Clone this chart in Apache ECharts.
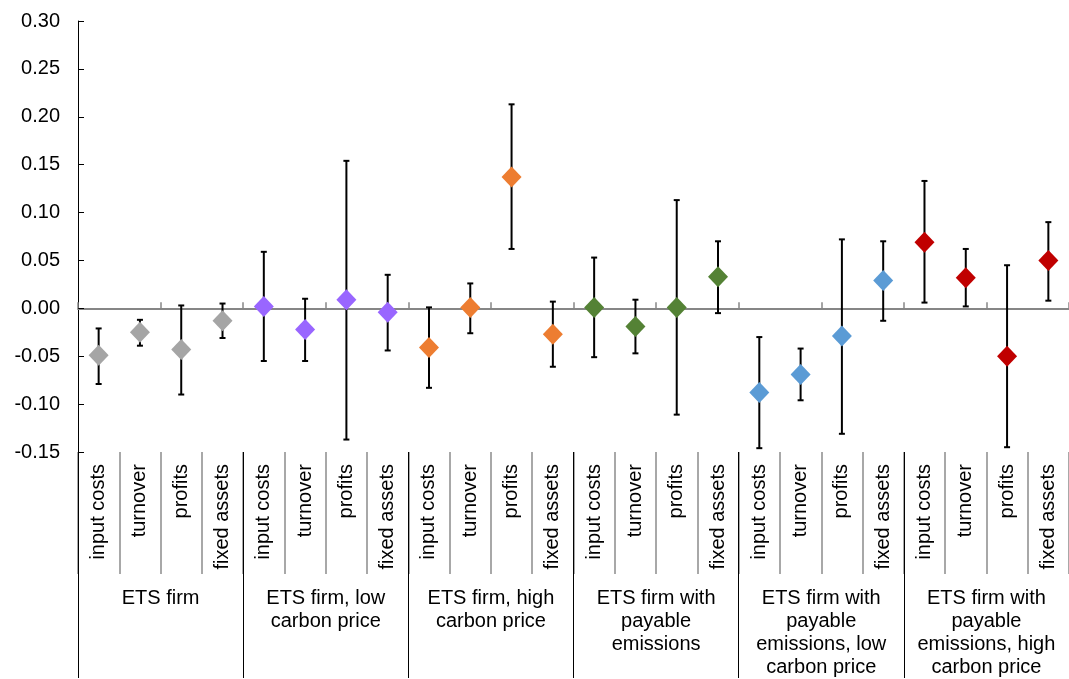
<!DOCTYPE html>
<html>
<head>
<meta charset="utf-8">
<title>ETS firm effects</title>
<script src="https://cdn.jsdelivr.net/npm/echarts@6/dist/echarts.min.js"></script>
<style>
  html, body { margin: 0; padding: 0; background: #fff; }
  #chart { width: 1069px; height: 679px; }
</style>
</head>
<body>
<div id="chart"></div>
<script>
// Outcome variables, repeated under each firm group
const items = [
  'input costs', 'turnover', 'profits', 'fixed assets',
  'input costs', 'turnover', 'profits', 'fixed assets',
  'input costs', 'turnover', 'profits', 'fixed assets',
  'input costs', 'turnover', 'profits', 'fixed assets',
  'input costs', 'turnover', 'profits', 'fixed assets',
  'input costs', 'turnover', 'profits', 'fixed assets'
];

// Firm groups (four outcomes each)
const groups = [
  'ETS firm',
  'ETS firm, low\ncarbon price',
  'ETS firm, high\ncarbon price',
  'ETS firm with\npayable\nemissions',
  'ETS firm with\npayable\nemissions, low\ncarbon price',
  'ETS firm with\npayable\nemissions, high\ncarbon price'
];

// Point estimates
const estimates = [
  -0.049, -0.025, -0.043, -0.013,
   0.002, -0.022,  0.009, -0.004,
  -0.041,  0.001,  0.137, -0.027,
   0.001, -0.019,  0.001,  0.033,
  -0.088, -0.069, -0.029,  0.029,
   0.069,  0.032, -0.050,  0.050
];

// Lower bounds of the confidence intervals
const lower = [
  -0.079, -0.039, -0.090, -0.031,
  -0.055, -0.055, -0.137, -0.044,
  -0.083, -0.026,  0.062, -0.061,
  -0.051, -0.047, -0.111, -0.005,
  -0.146, -0.096, -0.131, -0.013,
   0.006,  0.002, -0.145,  0.008
];

// Upper bounds of the confidence intervals
const upper = [
  -0.021, -0.012,  0.003,  0.005,
   0.059,  0.010,  0.154,  0.035,
   0.001,  0.026,  0.213,  0.007,
   0.053,  0.009,  0.113,  0.070,
  -0.030, -0.042,  0.072,  0.070,
   0.133,  0.062,  0.045,  0.090
];

// Y axis range
const yMin = -0.15;
const yMax = 0.30;
const yStep = 0.05;

// Marker colour per firm group
const groupColors = ['#A5A5A5', '#9966FF', '#ED7D31', '#548235', '#5B9BD5', '#C00000'];

const FONT = '"Liberation Sans", Arial, sans-serif';

const chart = echarts.init(document.getElementById('chart'), null, { renderer: 'canvas' });

const errorData = items.map((_, i) => [i, lower[i], upper[i]]);

chart.setOption({
  animation: false,
  backgroundColor: '#ffffff',
  textStyle: { fontFamily: FONT },
  grid: { left: 78, top: 21, width: 994, height: 434, containLabel: false },
  xAxis: [
    {
      // zero line with boundary ticks
      type: 'category',
      data: items,
      position: 'bottom',
      boundaryGap: true,
      axisLine: { show: true, onZero: true, lineStyle: { color: '#868686', width: 2 } },
      axisTick: { show: true, inside: true, length: 6, lineStyle: { color: '#868686', width: 1.5 } },
      axisLabel: { show: false },
      splitLine: { show: false }
    },
    {
      // outcome labels with separators
      type: 'category',
      data: items,
      position: 'bottom',
      boundaryGap: true,
      axisLine: { show: false, onZero: false },
      axisTick: { show: true, length: 122, lineStyle: { color: '#8C8C8C', width: 1.5 } },
      axisLabel: {
        show: true, interval: 0, rotate: 90, margin: 12,
        fontSize: 20, color: '#000', fontFamily: FONT
      },
      splitLine: { show: false }
    },
    {
      // firm group labels
      type: 'category',
      data: groups,
      position: 'bottom',
      boundaryGap: true,
      axisLine: { show: false, onZero: false },
      axisTick: { show: true, length: 226, lineStyle: { color: '#000', width: 1 } },
      axisLabel: {
        show: true, interval: 0, margin: 135,
        fontSize: 20, lineHeight: 23, color: '#000', fontFamily: FONT,
        align: 'center', verticalAlign: 'top'
      },
      splitLine: { show: false }
    }
  ],
  yAxis: {
    type: 'value',
    min: yMin,
    max: yMax,
    interval: yStep,
    axisLine: { show: true, onZero: false, lineStyle: { color: '#000', width: 1 } },
    axisTick: { show: true, inside: true, length: 6, lineStyle: { color: '#000', width: 1 } },
    axisLabel: {
      margin: 18, fontSize: 20, color: '#000', fontFamily: FONT,
      formatter: v => v.toFixed(2)
    },
    splitLine: { show: false }
  },
  series: [
    {
      name: 'interval',
      type: 'custom',
      xAxisIndex: 0,
      yAxisIndex: 0,
      z: 2,
      encode: { x: 0, y: [1, 2] },
      data: errorData,
      renderItem: function (params, api) {
        const lo = api.coord([api.value(0), api.value(1)]);
        const hi = api.coord([api.value(0), api.value(2)]);
        const x = lo[0];
        const cap = 3;
        const style = { stroke: '#000', lineWidth: 2 };
        return {
          type: 'group',
          children: [
            { type: 'line', shape: { x1: x, y1: hi[1], x2: x, y2: lo[1] }, style: style },
            { type: 'line', shape: { x1: x - cap, y1: hi[1], x2: x + cap, y2: hi[1] }, style: style },
            { type: 'line', shape: { x1: x - cap, y1: lo[1], x2: x + cap, y2: lo[1] }, style: style }
          ]
        };
      }
    },
    {
      name: 'estimate',
      type: 'scatter',
      xAxisIndex: 0,
      yAxisIndex: 0,
      z: 3,
      symbol: 'diamond',
      symbolSize: [20, 21],
      data: estimates,
      itemStyle: {
        opacity: 1,
        color: p => groupColors[Math.floor(p.dataIndex / 4)]
      }
    }
  ]
});
</script>
</body>
</html>
